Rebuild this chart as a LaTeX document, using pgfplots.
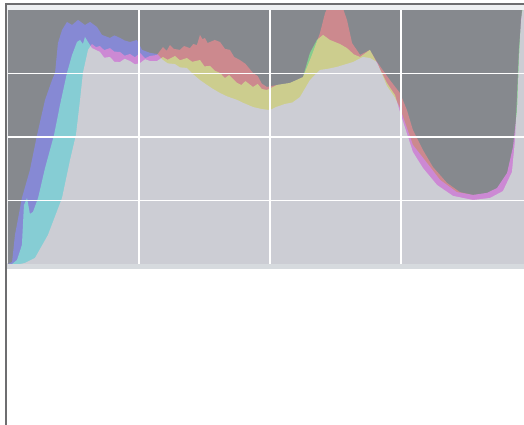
\documentclass[border=0pt]{standalone}
\usepackage{pgfplots}
\pgfplotsset{compat=1.18}
\definecolor{bgc}{RGB}{134,137,142}
\definecolor{rc}{RGB}{204,0,0}
\definecolor{gc}{RGB}{0,205,0}
\definecolor{bc}{RGB}{0,0,212}
\definecolor{framec}{RGB}{110,110,112}
\definecolor{stripc}{RGB}{238,240,242}
\definecolor{basec}{RGB}{214,218,222}
\begin{document}
\begin{tikzpicture}
\useasboundingbox (0,0) rectangle (524pt,-425pt);
\fill[stripc] (6pt,-4pt) rectangle (524pt,-12pt);
\fill[stripc] (6pt,-4pt) rectangle (9pt,-266pt);
\fill[basec] (6pt,-263pt) rectangle (524pt,-269pt);
\draw[framec, line width=1.4pt] (6pt,-425pt) -- (6pt,-4pt) -- (524pt,-4pt);
\begin{axis}[
  at={(8pt,-10pt)}, anchor=north west,
  width=524pt, height=254pt, scale only axis,
  xmin=0, xmax=256, ymin=0, ymax=100,
  axis background/.style={fill=bgc},
  axis line style={draw=none},
  xtick={64,128,192}, ytick={25,50,75},
  xticklabels={}, yticklabels={},
  major tick length=0pt,
  grid=major,
  grid style={white, line width=1.6pt},
  axis on top,
  clip=true,
]
% Red channel
\addplot[fill=rc, draw=none, blend mode=lighten] table {
x y
0 0
5.9 0
8.3 0.4
13.2 2.4
19.5 11.4
26.4 26.0
30.3 40.9
33.2 50.8
35.2 64.6
36.6 75.2
39.1 84.3
41.0 86.6
43.0 85.4
44.9 85.8
47.0 84.2
49.8 85.0
52.0 83.6
54.7 83.5
57.0 82.0
59.6 82.7
62.0 81.4
64.5 83.1
67.0 81.0
69.4 81.9
72.8 82.3
75.7 85.4
77.5 83.9
79.1 86.2
81.0 84.7
84.0 84.3
86.0 85.8
88.9 85.0
90.5 86.6
92.3 86.2
93.8 90.2
95.0 88.5
96.2 89.0
97.5 87.0
98.7 87.4
101.0 88.2
103.6 87.4
106.0 84.7
108.4 84.3
110.5 81.5
113.3 80.3
116.0 78.8
119.7 75.2
122.0 74.0
124.0 71.0
126.5 69.7
131.4 70.5
137.8 71.3
144.1 73.6
148.5 82.3
152.4 90.9
154.9 98.8
157.3 103.1
162.2 103.9
165.6 96.1
168.1 87.0
172.0 82.3
176.8 84.3
180.3 79.5
186.6 72.4
191.5 67.3
194.9 60.6
197.8 52.8
202.7 44.9
207.6 38.2
214.5 31.9
220.8 28.3
227.2 27.2
234.0 28.0
238.9 29.9
243.8 35.8
246.7 46.1
248.7 60.6
249.6 80.3
250.6 96.1
252.1 104
256 104
256 0
} \closedcycle;
% Green channel
\addplot[fill=gc, draw=none, blend mode=lighten] table {
x y
0 0
2.0 0
4.4 1.6
6.8 7.5
7.8 23.2
9.3 26.0
10.7 19.7
12.2 20.5
14.7 26.0
18.1 37.8
22.5 50.8
25.4 62.6
28.8 75.2
31.3 82.3
33.7 87.4
35.2 88.2
36.6 86.6
37.6 89.4
39.1 87.4
41.0 85.0
44.9 83.5
47.0 81.2
49.8 81.5
52.0 79.6
54.7 79.5
57.0 80.8
59.6 79.9
62.0 78.6
64.5 79.1
67.0 80.6
69.4 79.9
72.8 79.9
75.7 81.5
78.0 80.4
81.6 81.9
84.0 80.2
87.4 81.1
90.0 79.6
93.8 80.3
96.0 77.8
98.7 78.0
101.0 76.1
103.6 75.2
106.0 73.2
108.0 74.4
111.9 71.3
114.0 70.5
116.0 72.0
119.7 69.7
122.0 70.9
124.0 68.9
126.5 68.5
131.4 70.5
137.8 71.3
144.1 73.6
147.5 83.1
150.9 88.2
153.9 90.2
157.3 88.2
162.2 86.6
165.6 85.0
169.0 82.5
172.0 81.5
176.8 84.3
180.3 79.1
185.1 71.3
189.1 66.5
191.5 59.8
197.8 44.1
202.7 37.8
209.6 31.1
217.4 26.8
227.2 25.2
235.5 26.0
241.8 28.7
246.2 36.2
247.7 48.8
248.7 66.5
249.6 84.3
251.1 100
256 100
256 0
} \closedcycle;
% Blue channel
\addplot[fill=bc, draw=none, blend mode=lighten] table {
x y
0 0
1.0 0.4
2.0 0.8
3.4 11.4
6.8 26.0
10.7 37.0
14.2 50.8
18.1 64.6
21.5 72.4
23.0 75.2
24.4 87.0
26.4 92.1
28.8 95.3
31.3 94.1
34.2 96.1
37.6 94.1
40.1 95.3
43.5 93.3
45.9 90.2
49.8 89.0
52.0 90.0
54.7 89.0
57.0 88.0
59.6 87.4
63.0 88.2
65.5 84.3
69.4 83.1
72.8 82.7
75.7 80.3
78.0 79.0
81.6 78.7
84.0 77.4
87.4 77.2
90.0 75.0
93.8 72.4
97.0 70.6
100.0 69.0
103.6 67.3
107.0 66.0
111.9 64.6
115.0 63.4
119.7 61.8
124.0 61.0
127.9 60.6
131.0 61.8
135.3 63.0
139.0 63.6
142.6 65.7
147.5 72.4
152.4 76.4
156.0 76.8
160.7 77.6
164.0 78.4
168.5 79.5
173.4 81.5
176.8 81.1
180.3 79.5
185.1 70.1
189.1 65.4
191.5 61.4
197.8 46.9
204.7 39.8
211.1 33.1
219.3 28.3
227.2 27.2
234.0 28.0
238.9 29.9
243.8 35.8
246.7 46.1
248.7 60.6
249.6 80.3
250.6 96.1
252.1 104
256 104
256 0
} \closedcycle;
\end{axis}
\end{tikzpicture}
\end{document}
